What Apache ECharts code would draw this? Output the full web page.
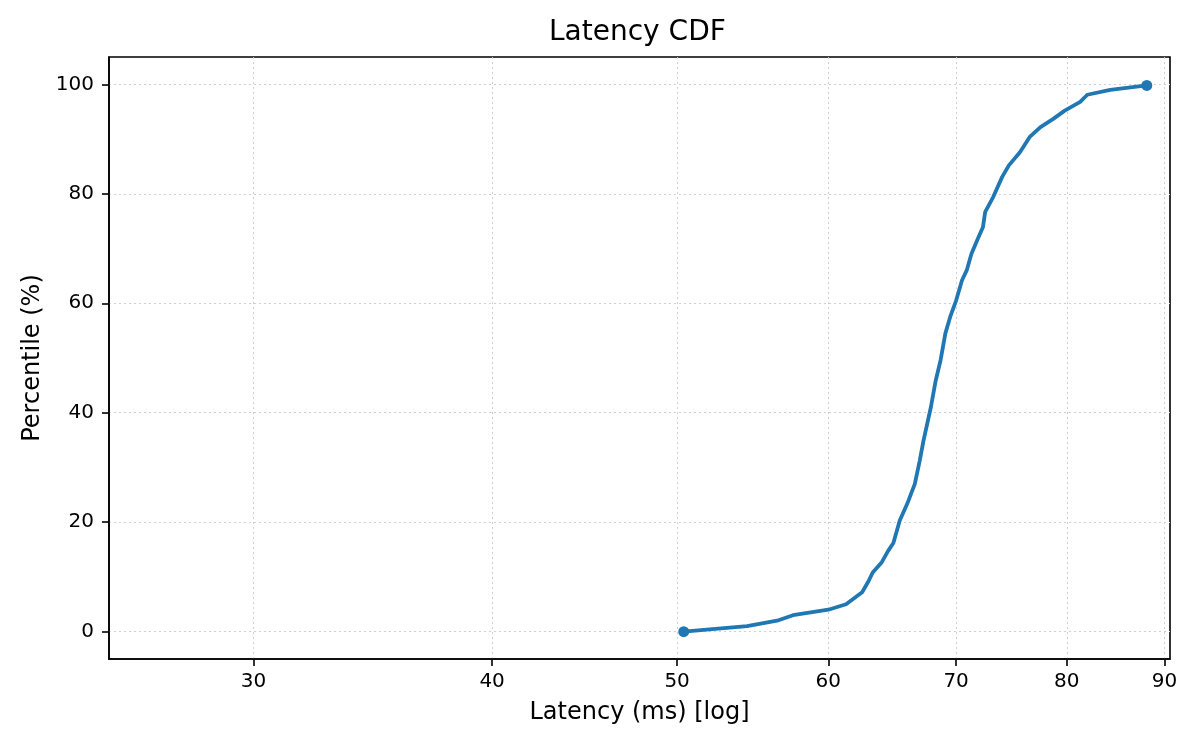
<!DOCTYPE html>
<html>
<head>
<meta charset="utf-8">
<title>Latency CDF</title>
<script src="https://cdn.jsdelivr.net/npm/echarts@6/dist/echarts.min.js"></script>
<style>
  html, body { margin: 0; padding: 0; background: #fff; }
  #chart { width: 1200px; height: 750px; }
</style>
</head>
<body>
<div id="chart"></div>
<script>
// latency (ms) and the matching percentile
var latency = [50.4, 54.4, 56.4, 57.5, 60.0, 61.3, 62.5, 63.0, 63.3, 64.0,
  64.5, 64.9, 65.4, 66.0, 66.6, 67.0, 67.3, 67.9, 68.3, 68.7,
  69.1, 69.5, 70.0, 70.5, 70.9, 71.3, 71.8, 72.3, 72.5, 73.2,
  74.0, 74.6, 75.6, 76.5, 77.5, 78.7, 79.8, 81.3, 82.0, 84.3, 88.1]
var percentile = [0, 1, 2, 3, 4, 5, 7.2, 9.3, 10.8, 12.7,
  14.8, 16.2, 20.3, 23.4, 27.0, 31.3, 34.9, 41.0, 45.9, 49.6,
  54.5, 57.5, 60.5, 64.2, 66.0, 69.0, 71.5, 73.9, 76.7, 79.4,
  83.1, 85.2, 87.6, 90.4, 92.2, 93.7, 95.2, 96.8, 98.1, 99.0, 99.8]

var xTicks = [30, 40, 50, 60, 70, 80, 90]
var yTicks = [0, 20, 40, 60, 80, 100]

var FONT = 'DejaVu Sans'
var LINE_COLOR = '#1f77b4'

function buildPairs(xs, ys) {
  return xs.map(function(x, i) {
    return [x, ys[i]]
  })
}

var curve = buildPairs(latency, percentile)
var ends = [curve[0], curve[curve.length - 1]]

var chart = echarts.init(document.getElementById('chart'))

var gridLine = {
  show: true,
  lineStyle: { color: '#cfcfcf', width: 1, type: [2, 3] }
}

chart.setOption({
  animation: false,
  title: {
    text: 'Latency CDF',
    left: 549,
    top: 19,
    padding: 0,
    textStyle: { fontFamily: FONT, fontSize: 28, fontWeight: 'normal', color: '#000' }
  },
  grid: {
    left: 109,
    right: 30,
    top: 57,
    bottom: 91,
    show: true,
    borderColor: '#000',
    borderWidth: 1.6,
    containLabel: false
  },
  xAxis: {
    type: 'log',
    min: 25.2,
    max: 90.6,
    name: 'Latency (ms) [log]',
    nameLocation: 'middle',
    nameGap: 42,
    nameTextStyle: { fontFamily: FONT, fontSize: 24, color: '#000' },
    axisLine: { onZero: false, lineStyle: { color: '#000', width: 1.6 } },
    axisTick: { show: true, length: 7, customValues: xTicks, lineStyle: { color: '#000', width: 1.6 } },
    axisLabel: {
      customValues: xTicks,
      margin: 13,
      fontFamily: FONT,
      fontSize: 20,
      color: '#000',
      formatter: function(v) { return String(Math.round(v)) }
    },
    splitLine: gridLine,
    minorTick: { show: false },
    minorSplitLine: { show: false }
  },
  yAxis: {
    type: 'value',
    min: -5,
    max: 105,
    name: 'Percentile (%)',
    nameLocation: 'middle',
    nameGap: 60,
    nameTextStyle: { fontFamily: FONT, fontSize: 24, color: '#000' },
    axisLine: { show: true, lineStyle: { color: '#000', width: 1.6 } },
    axisTick: { show: true, length: 7, customValues: yTicks, lineStyle: { color: '#000', width: 1.6 } },
    axisLabel: {
      customValues: yTicks,
      margin: 15,
      fontFamily: FONT,
      fontSize: 20,
      color: '#000'
    },
    splitLine: gridLine
  },
  series: [
    {
      name: 'CDF',
      type: 'line',
      data: curve,
      showSymbol: false,
      smooth: false,
      lineStyle: { color: LINE_COLOR, width: 3.8 },
      itemStyle: { color: LINE_COLOR }
    },
    {
      name: 'ends',
      type: 'scatter',
      data: ends,
      symbol: 'circle',
      symbolSize: 11,
      itemStyle: { color: LINE_COLOR, opacity: 1 }
    }
  ]
})
</script>
</body>
</html>
